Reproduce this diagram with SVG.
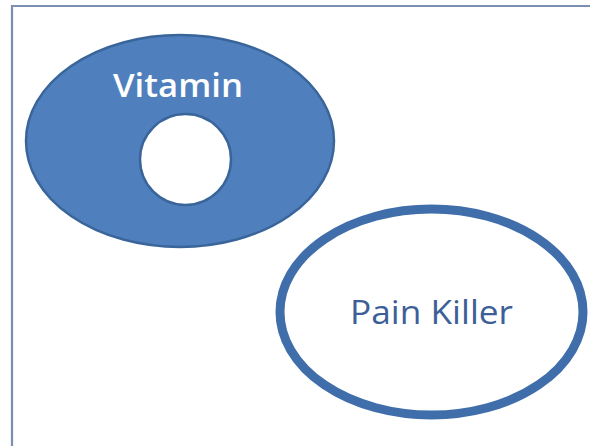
<svg xmlns="http://www.w3.org/2000/svg" width="590" height="446" viewBox="0 0 590 446">
<style>
.frame{fill:none;stroke:#7b8fb3;stroke-width:2.2}
.vit{fill:#4f80bd;stroke:#3a659b;stroke-width:2.5}
.hole{fill:#ffffff;stroke:#3a659b;stroke-width:2.5}
.ring{fill:#ffffff;stroke:#3f6eaa;stroke-width:9}
.lbl{font-family:"Open Sans","Liberation Sans",sans-serif;font-size:33px;text-anchor:middle}
</style>
<rect width="590" height="446" fill="#ffffff"/>
<path class="frame" d="M12,446 V6 H590"/>
<g id="vitamin">
<ellipse class="vit" cx="180" cy="141" rx="154" ry="106"/>
<circle class="hole" cx="185.5" cy="159.5" r="45.5"/>
<text class="lbl" x="178" y="97" fill="#ffffff" font-weight="600" textLength="130" lengthAdjust="spacingAndGlyphs">Vitamin</text>
</g>
<g id="painkiller">
<ellipse class="ring" cx="431.5" cy="312" rx="151.5" ry="103"/>
<text class="lbl" x="431.5" y="324" fill="#3d5f98" textLength="163" lengthAdjust="spacingAndGlyphs">Pain Killer</text>
</g>
<g id="connectors"/>
</svg>
